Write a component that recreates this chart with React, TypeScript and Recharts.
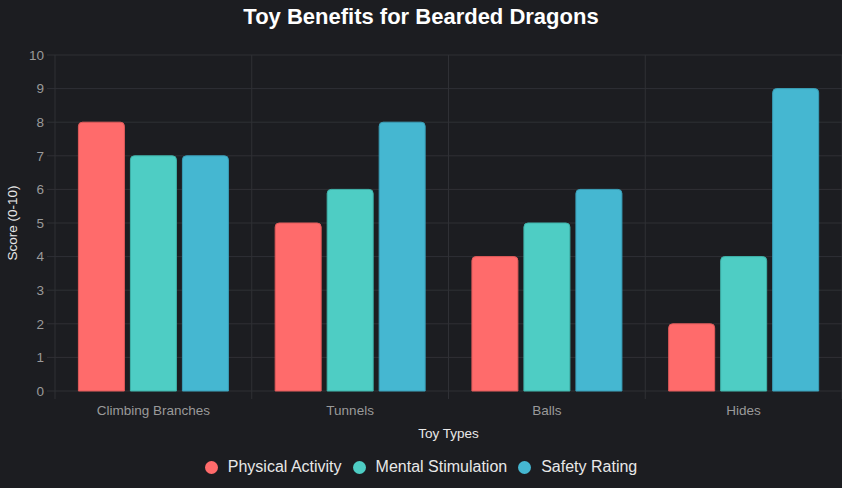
import React from 'react';
import { BarChart, Bar, XAxis, YAxis, CartesianGrid, Legend, Label } from 'recharts';

const categories = ['Climbing Branches', 'Tunnels', 'Balls', 'Hides'];
const physicalActivity = [8, 5, 4, 2];
const mentalStimulation = [7, 6, 5, 4];
const safetyRating = [7, 8, 6, 9];
const yTicks = [0, 1, 2, 3, 4, 5, 6, 7, 8, 9, 10];

const series = [
  { key: 'physical', name: 'Physical Activity', fill: '#FF6B6B', stroke: '#E05A5A' },
  { key: 'mental', name: 'Mental Stimulation', fill: '#4ECDC4', stroke: '#3FB3AA' },
  { key: 'safety', name: 'Safety Rating', fill: '#45B7D1', stroke: '#3A9FB8' },
];

const data = categories.map((name, i) => ({
  name,
  physical: physicalActivity[i],
  mental: mentalStimulation[i],
  safety: safetyRating[i],
}));

const W = 842;
const H = 488;
const MARGIN_TOP = 55;
const X_AXIS_H = 55;
const LEGEND_H = 42;
const PLOT_H = H - MARGIN_TOP - X_AXIS_H - LEGEND_H;
const TICK_LEN = 8;

const BG = '#1c1d21';
const GRID = '#2f3035';
const TICK = '#9a9a9a';
const LABEL = '#e8e8e8';
const FONT = '"Liberation Sans", Arial, Helvetica, sans-serif';

// vertical grid lines sit on the borders between category bands
const bandBorders = ({ offset }: any) =>
  Array.from({ length: categories.length + 1 }, (_, i) => offset.left + (i * offset.width) / categories.length);

const LegendContent = () => (
  <div
    style={{
      display: 'flex',
      justifyContent: 'center',
      alignItems: 'center',
      height: LEGEND_H,
      fontFamily: FONT,
      fontSize: 16,
      color: LABEL,
    }}
  >
    {series.map((s, i) => (
      <div
        key={s.key}
        style={{ display: 'flex', alignItems: 'center', marginLeft: i === 0 ? 0 : 11 }}
      >
        <span
          style={{
            display: 'inline-block',
            width: 13,
            height: 13,
            borderRadius: '50%',
            background: s.fill,
            marginRight: 10,
          }}
        />
        <span>{s.name}</span>
      </div>
    ))}
  </div>
);

export default function App() {
  return (
    <div style={{ position: 'fixed', left: 0, top: 0, width: W, height: H, background: BG }}>
      <div
        style={{
          position: 'absolute',
          left: 0,
          top: 6,
          width: W,
          textAlign: 'center',
          fontFamily: FONT,
          fontWeight: 'bold',
          fontSize: 22,
          color: '#ffffff',
          lineHeight: '22px',
        }}
      >
        Toy Benefits for Bearded Dragons
      </div>
      <BarChart
        width={W}
        height={H}
        data={data}
        margin={{ top: MARGIN_TOP, right: 0, left: 0, bottom: 0 }}
        barCategoryGap="11.9%"
        barGap={6}
        style={{ fontFamily: FONT }}
      >
        <XAxis
          dataKey="name"
          height={X_AXIS_H}
          axisLine={false}
          tickLine={false}
          tickSize={TICK_LEN}
          tickMargin={6}
          interval={0}
          tick={{ fill: TICK, fontSize: 13.5 }}
        >
          <Label value="Toy Types" position="insideBottom" offset={8} fill={LABEL} fontSize={13.5} />
        </XAxis>
        <YAxis
          width={55}
          domain={[0, 10]}
          ticks={yTicks}
          interval={0}
          axisLine={false}
          tickLine={{ stroke: GRID }}
          tickSize={TICK_LEN}
          tickMargin={3}
          tick={{ fill: TICK, fontSize: 13.5 }}
        >
          <Label
            content={({ viewBox }: any) => {
              const cx = viewBox.x + 12;
              const cy = viewBox.y + viewBox.height / 2;
              return (
                <text
                  x={cx}
                  y={cy}
                  transform={`rotate(-90 ${cx} ${cy})`}
                  textAnchor="middle"
                  dominantBaseline="central"
                  fill={LABEL}
                  fontSize={13.5}
                >
                  Score (0-10)
                </text>
              );
            }}
          />
        </YAxis>
        <CartesianGrid
          stroke={GRID}
          y={MARGIN_TOP}
          height={PLOT_H + TICK_LEN}
          verticalCoordinatesGenerator={bandBorders}
        />
        <Legend verticalAlign="bottom" height={LEGEND_H} content={<LegendContent />} />
        {series.map((s) => (
          <Bar
            key={s.key}
            dataKey={s.key}
            name={s.name}
            fill={s.fill}
            stroke={s.stroke}
            strokeWidth={1}
            radius={[4, 4, 0, 0]}
            isAnimationActive={false}
          />
        ))}
      </BarChart>
    </div>
  );
}
